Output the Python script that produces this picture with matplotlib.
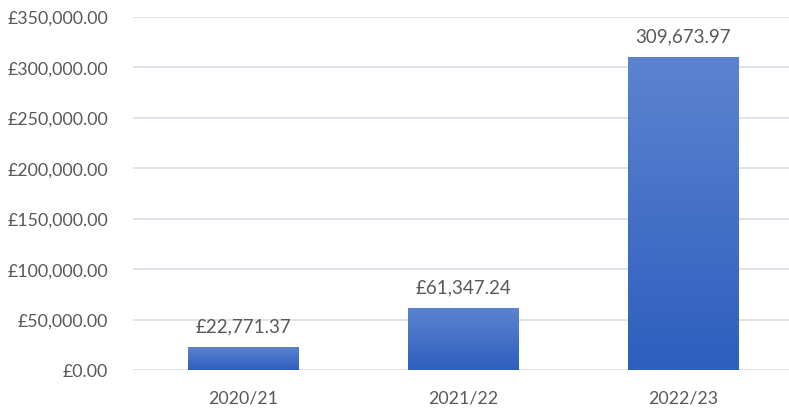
import matplotlib.pyplot as plt
import numpy as np
from matplotlib.colors import LinearSegmentedColormap

years = ['2020/21', '2021/22', '2022/23']
amounts = [22771.37, 61347.24, 309673.97]
bar_labels = ['£22,771.37', '£61,347.24', '309,673.97']
yticks = [0, 50000, 100000, 150000, 200000, 250000, 300000, 350000]

plt.rcParams['font.family'] = ['Lato', 'DejaVu Sans']
text_col = '#595959'

fig = plt.figure(figsize=(7.89, 4.10), dpi=100)
ax = fig.add_axes([133 / 789, 1 - 371 / 410, 1 - 133 / 789, (371 - 17.5) / 410])

x = np.arange(len(years))
bars = ax.bar(x, amounts, width=0.5, color='none', zorder=3)

# vertical gradient fill for each bar
cmap = LinearSegmentedColormap.from_list('bar', ['#2E5EBE', '#5C83CF'])
grad = np.linspace(0, 1, 256).reshape(-1, 1)
for b in bars:
    x0, y0 = b.get_x(), b.get_y()
    w, h = b.get_width(), b.get_height()
    im = ax.imshow(grad, cmap=cmap, origin='lower', aspect='auto',
                   extent=[x0, x0 + w, y0, y0 + h], zorder=3)
    im.set_clip_path(b)

for xi, val, lab in zip(x, amounts, bar_labels):
    ax.annotate(lab, (xi, val), xytext=(0, 9), textcoords='offset points',
                ha='center', va='bottom', fontsize=13.5, color=text_col)

ax.set_xlim(-0.5, 2.48)
ax.set_ylim(0, 350000)
ax.set_yticks(yticks)
ax.set_yticklabels([f'£{v:,.2f}' for v in yticks])
ax.set_xticks(x)
ax.set_xticklabels(years)
ax.tick_params(axis='both', length=0, labelsize=12.8, labelcolor=text_col)
ax.tick_params(axis='y', pad=18)
ax.tick_params(axis='x', pad=14)

ax.grid(axis='y', color='#D9DEE8', linewidth=1.2, zorder=0)
for s in ax.spines.values():
    s.set_visible(False)

fig.savefig('out.png', dpi=100)
